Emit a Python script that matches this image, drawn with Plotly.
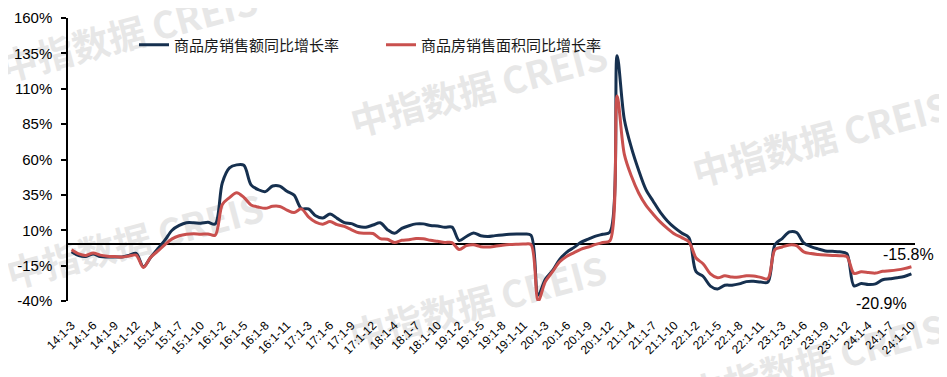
import plotly.graph_objects as go

categories = [
    "14:1-3", "14:1-4", "14:1-5", "14:1-6", "14:1-7", "14:1-8", "14:1-9", "14:1-10", "14:1-11", "14:1-12",
    "15:1-2", "15:1-3", "15:1-4", "15:1-5", "15:1-6", "15:1-7", "15:1-8", "15:1-9", "15:1-10", "15:1-11", "15:1-12",
    "16:1-2", "16:1-3", "16:1-4", "16:1-5", "16:1-6", "16:1-7", "16:1-8", "16:1-9", "16:1-10", "16:1-11", "16:1-12",
    "17:1-2", "17:1-3", "17:1-4", "17:1-5", "17:1-6", "17:1-7", "17:1-8", "17:1-9", "17:1-10", "17:1-11", "17:1-12",
    "18:1-2", "18:1-3", "18:1-4", "18:1-5", "18:1-6", "18:1-7", "18:1-8", "18:1-9", "18:1-10", "18:1-11", "18:1-12",
    "19:1-2", "19:1-3", "19:1-4", "19:1-5", "19:1-6", "19:1-7", "19:1-8", "19:1-9", "19:1-10", "19:1-11", "19:1-12",
    "20:1-2", "20:1-3", "20:1-4", "20:1-5", "20:1-6", "20:1-7", "20:1-8", "20:1-9", "20:1-10", "20:1-11", "20:1-12",
    "21:1-2", "21:1-3", "21:1-4", "21:1-5", "21:1-6", "21:1-7", "21:1-8", "21:1-9", "21:1-10", "21:1-11", "21:1-12",
    "22:1-2", "22:1-3", "22:1-4", "22:1-5", "22:1-6", "22:1-7", "22:1-8", "22:1-9", "22:1-10", "22:1-11", "22:1-12",
    "23:1-2", "23:1-3", "23:1-4", "23:1-5", "23:1-6", "23:1-7", "23:1-8", "23:1-9", "23:1-10", "23:1-11", "23:1-12",
    "24:1-2", "24:1-3", "24:1-4", "24:1-5", "24:1-6", "24:1-7", "24:1-8", "24:1-9", "24:1-10",
]

# 商品房销售额同比增长率 (%)
sales_amount = [
    -5.2, -7.9, -8.5, -6.7, -8.6, -8.9, -8.9, -8.9, -7.8, -6.3,
    -15.8, -9.3, -3.1, 3.0, 10.0, 13.4, 15.3, 15.3, 14.9, 15.6, 14.4,
    43.6, 54.1, 56.2, 55.9, 42.1, 38.7, 37.3, 41.3, 41.2, 37.5, 34.8,
    25.4, 25.1, 20.2, 18.6, 21.5, 18.4, 15.4, 14.7, 12.6, 12.2, 13.7,
    15.3, 10.4, 7.8, 11.3, 13.2, 14.5, 14.5, 13.3, 13.0, 12.1, 12.2,
    2.8, 5.6, 8.1, 6.1, 5.6, 6.2, 6.7, 7.1, 7.3, 7.3, 6.5,
    -35.9, -24.7, -18.6, -10.6, -5.4, -2.1, 1.6, 3.7, 5.8, 7.2, 8.7,
    133.4, 88.5, 68.2, 52.4, 38.9, 30.7, 22.8, 16.6, 11.8, 8.0, 4.8,
    -19.3, -22.7, -29.5, -31.5, -28.9, -28.8, -27.9, -26.3, -26.1, -26.6, -26.7,
    -0.1, 4.1, 8.8, 8.4, 1.1, -1.5, -3.2, -4.6, -4.9, -5.2, -6.5,
    -29.3, -27.6, -28.3, -27.9, -25.0, -24.3, -23.6, -22.7, -20.9,
]

# 商品房销售面积同比增长率 (%)
sales_area = [
    -3.8, -6.7, -7.8, -6.0, -7.6, -8.3, -8.6, -8.9, -8.2, -7.6,
    -16.3, -9.2, -4.8, -0.2, 3.9, 6.1, 7.2, 7.5, 7.2, 7.4, 6.5,
    28.2, 33.1, 36.5, 33.2, 27.9, 26.4, 25.5, 26.9, 26.8, 24.3, 22.5,
    25.1, 19.5, 15.7, 14.3, 16.1, 14.0, 12.7, 10.3, 8.2, 7.9, 7.7,
    4.1, 3.6, 1.3, 2.9, 3.3, 4.2, 4.0, 2.9, 2.2, 1.4, 1.3,
    -3.6, -0.9, -0.3, -1.6, -1.8, -1.3, -0.6, -0.1, 0.1, 0.2, -0.1,
    -39.9, -26.3, -19.3, -12.3, -8.4, -5.8, -3.3, -1.8, 0.0, 1.3, 2.6,
    104.9, 63.8, 48.1, 36.3, 27.7, 21.5, 15.9, 11.3, 7.3, 4.8, 1.9,
    -9.6, -13.8, -20.9, -23.6, -22.2, -23.1, -23.0, -22.2, -22.3, -23.3, -24.3,
    -3.6, -1.8, -0.4, -0.9, -5.3, -6.5, -7.1, -7.5, -7.8, -8.0, -8.5,
    -20.5, -19.4, -19.8, -20.3, -19.0, -18.6, -18.0, -17.1, -15.8,
]

series_names = ["商品房销售额同比增长率", "商品房销售面积同比增长率"]
tick_labels = categories[::3]
y_ticks = [-40, -15, 10, 35, 60, 85, 110, 135, 160]

NAVY = "#16304f"
RED = "#c9504e"
WM = "#e7e7e7"
CJK = "Noto Sans CJK SC"
LAT = "Liberation Sans"

# page has an 8px body margin; figure is sized to fit the window
OFF = 8
FW, FH = 947 - OFF, 377 - OFF
PX0, PX1, PY0, PY1 = 68, 915, 18, 301          # plot area in page pixels
L, R, T, B = PX0 - OFF, FW - (PX1 - OFF), PY0 - OFF, FH - (PY1 - OFF)
pw, ph = PX1 - PX0, PY1 - PY0


def paper_x(x):
    return (x - PX0) / pw


def paper_y(y):
    return (PY1 - y) / ph


fig = go.Figure()
fig.add_trace(go.Scatter(x=categories, y=sales_amount, name=series_names[0], mode="lines",
                         line=dict(color=NAVY, width=3, shape="spline", smoothing=0.9)))
fig.add_trace(go.Scatter(x=categories, y=sales_area, name=series_names[1], mode="lines",
                         line=dict(color=RED, width=3, shape="spline", smoothing=0.9)))

# watermarks (behind the lines)
wm_centers = [(130, 38), (480, 93), (822, 143), (136, 245), (479, 307), (818, 365)]
shapes = []
for cx, cy in wm_centers:
    px, py = paper_x(cx), paper_y(cy)
    shapes.append(dict(type="rect", xref="paper", yref="paper",
                       x0=px - 0.01, x1=px + 0.01, y0=py - 0.01, y1=py + 0.01,
                       line=dict(width=0), fillcolor="rgba(0,0,0,0)", layer="below",
                       label=dict(text="中指数据 CREIS", textangle=-15, textposition="middle center",
                                  font=dict(family=CJK, size=37, color=WM, weight="bold"))))

annotations = [
    dict(x=116.6, y=paper_y(254), xref="x", yref="paper", text="-15.8%", showarrow=False,
         xanchor="center", yanchor="middle", font=dict(family=LAT, size=16, color="black")),
    dict(x=112.9, y=paper_y(303), xref="x", yref="paper", text="-20.9%", showarrow=False,
         xanchor="center", yanchor="middle", font=dict(family=LAT, size=16, color="black")),
]

fig.update_layout(
    width=FW, height=FH,
    margin=dict(l=L, r=R, t=T, b=B, autoexpand=False),
    paper_bgcolor="white", plot_bgcolor="rgba(0,0,0,0)",
    font=dict(family=LAT + ", " + CJK, color="black"),
    showlegend=True,
    legend=dict(orientation="h", x=paper_x(134), xanchor="left", y=paper_y(45), yanchor="middle",
                font=dict(family=CJK, size=15, color="#1a1a1a"), bgcolor="rgba(0,0,0,0)",
                entrywidth=202, entrywidthmode="pixels", itemwidth=30),
    shapes=shapes,
    annotations=annotations,
)
fig.update_xaxes(type="category", tickmode="array", tickvals=tick_labels, ticktext=tick_labels,
                 tickangle=-45, tickfont=dict(family=LAT, size=12, color="black"),
                 ticklabelstandoff=14,
                 showgrid=False, showline=False, ticks="", zeroline=False, automargin=False,
                 range=[-0.5, len(categories) - 0.5])
fig.update_yaxes(range=[-40, 160], tickmode="array", tickvals=y_ticks,
                 ticktext=[f"{v}%" for v in y_ticks],
                 tickfont=dict(family=LAT, size=15, color="black"), ticklabelstandoff=6,
                 showgrid=False, showline=True, linecolor="black", linewidth=1.5,
                 ticks="outside", ticklen=5, tickcolor="black", tickwidth=1.5, automargin=False,
                 zeroline=True, zerolinecolor="black", zerolinewidth=1.5)

fig.write_html("out.html")
